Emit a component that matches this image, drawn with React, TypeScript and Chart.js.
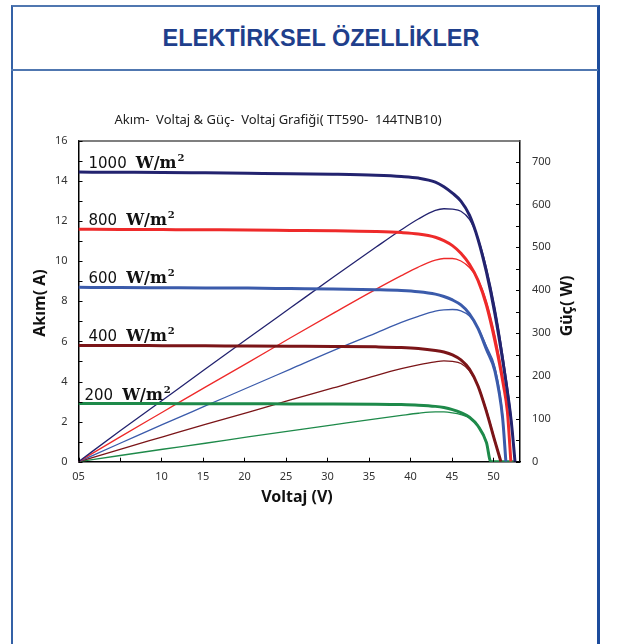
import React, { useEffect, useRef } from "react";
import { Chart, registerables } from "chart.js";

Chart.register(...registerables);

// ---------- data ----------
const irradianceLabels = ["1000", "800", "600", "400", "200"];

const voltage1000 = [0, 5.02, 10.15, 15.28, 20.42, 25.55, 30.68, 35.82, 38.9, 40.95, 43.0, 44.03, 45.06, 46.08, 47.11, 48.14, 49.16, 50.19, 51.21, 52.15, 52.6];
const current1000 = [14.45, 14.44, 14.43, 14.41, 14.39, 14.37, 14.34, 14.29, 14.23, 14.15, 13.95, 13.72, 13.4, 13.0, 12.3, 11.1, 9.45, 7.35, 4.8, 2.0, 0];
const power1000 = [0, 72, 144, 216, 288, 359, 430, 500, 541, 566, 586, 590, 589, 584, 565, 521, 452, 359, 238, 101, 0];

const voltage800 = [0, 5.02, 10.15, 15.28, 20.42, 25.55, 30.68, 35.82, 38.9, 40.95, 43.0, 44.03, 45.06, 46.08, 47.11, 48.14, 49.16, 50.19, 51.21, 51.68, 52.1];
const current800 = [11.6, 11.59, 11.58, 11.57, 11.56, 11.54, 11.52, 11.48, 11.43, 11.36, 11.2, 11.03, 10.78, 10.4, 9.85, 9.05, 7.8, 6.0, 3.8, 2.5, 0];
const power800 = [0, 58, 116, 174, 231, 289, 346, 402, 434, 454, 470, 474, 474, 468, 453, 425, 374, 294, 190, 126, 0];

const voltage600 = [0, 5.02, 10.15, 15.28, 20.42, 25.55, 30.68, 35.82, 38.9, 40.95, 43.0, 44.03, 45.06, 46.08, 47.11, 48.14, 49.16, 50.19, 51.1, 51.5];
const current600 = [8.7, 8.69, 8.68, 8.67, 8.66, 8.64, 8.62, 8.58, 8.54, 8.48, 8.36, 8.24, 8.07, 7.82, 7.38, 6.65, 5.6, 4.5, 2.2, 0];
const power600 = [0, 43, 87, 130, 173, 216, 259, 300, 325, 339, 351, 354, 355, 352, 340, 313, 269, 220, 110, 0];

const voltage400 = [0, 5.02, 10.15, 15.28, 20.42, 25.55, 30.68, 35.82, 38.9, 40.95, 43.0, 44.03, 45.06, 46.08, 47.11, 48.14, 49.16, 50.19, 50.9];
const current400 = [5.8, 5.8, 5.79, 5.78, 5.77, 5.76, 5.75, 5.73, 5.7, 5.65, 5.55, 5.47, 5.33, 5.08, 4.62, 3.78, 2.5, 1.0, 0];
const power400 = [0, 29, 58, 87, 115, 144, 172, 201, 217, 226, 233, 235, 234, 229, 212, 178, 120, 49, 0];

const voltage200 = [0, 5.02, 10.15, 15.28, 20.42, 25.55, 30.68, 35.82, 38.9, 40.95, 43.0, 44.03, 45.06, 46.08, 47.11, 48.14, 49.16, 49.68, 52.45];
const current200 = [2.9, 2.9, 2.9, 2.89, 2.89, 2.88, 2.88, 2.87, 2.85, 2.82, 2.76, 2.7, 2.6, 2.45, 2.22, 1.78, 0.95, 0, 0];
const power200 = [0, 14.5, 29, 43, 58, 72, 86, 100, 108, 113, 116, 116, 114, 110, 102, 84, 46, 0, 0];

const voltageSeries = [voltage1000, voltage800, voltage600, voltage400, voltage200];
const currentSeries = [current1000, current800, current600, current400, current200];
const powerSeries = [power1000, power800, power600, power400, power200];

const xTickValues = [0, 5, 10, 15, 20, 25, 30, 35, 40, 45, 50];
const xTickLabels = ["05", "", "10", "15", "20", "25", "30", "35", "40", "45", "50"];
const currentTickValues = [0, 1, 2, 3, 4, 5, 6, 7, 8, 9, 10, 11, 12, 13, 14, 15, 16];
const currentTickLabels = ["0", "", "2", "", "4", "", "6", "", "8", "", "10", "", "12", "", "14", "", "16"];
const powerTickValues = [0, 50, 100, 150, 200, 250, 300, 350, 400, 450, 500, 550, 600, 650, 700];
const powerTickLabels = ["0", "", "100", "", "200", "", "300", "", "400", "", "500", "", "600", "", "700"];

const chartTitle = "Akım-  Voltaj & Güç-  Voltaj Grafiği( TT590-  144TNB10)";
const xTitle = "Voltaj (V)";
const yTitle = "Akım( A)";
const y1Title = "Güç( W)";
const headerTitle = "ELEKTİRKSEL ÖZELLİKLER";

// ---------- styles ----------
const seriesColors = ["#23236f", "#ee2a2a", "#3b5bab", "#7b1518", "#1e8a4a"];

const decorPlugin = {
  id: "decor",
  afterDraw(chart: any) {
    const { ctx, chartArea: a, scales } = chart;
    ctx.save();
    // top frame
    ctx.strokeStyle = "#555";
    ctx.lineWidth = 1.5;
    ctx.beginPath();
    ctx.moveTo(a.left, a.top);
    ctx.lineTo(a.right, a.top);
    ctx.stroke();
    // inside ticks
    ctx.strokeStyle = "#000";
    ctx.lineWidth = 1;
    ctx.beginPath();
    scales.x.ticks.forEach((t: any) => {
      const px = Math.round(scales.x.getPixelForValue(t.value)) + 0.5;
      ctx.moveTo(px, a.bottom);
      ctx.lineTo(px, a.bottom - 4);
    });
    scales.y.ticks.forEach((t: any) => {
      const py = Math.round(scales.y.getPixelForValue(t.value)) + 0.5;
      ctx.moveTo(a.left, py);
      ctx.lineTo(a.left + 4, py);
    });
    scales.y1.ticks.forEach((t: any) => {
      const py = Math.round(scales.y1.getPixelForValue(t.value)) + 0.5;
      ctx.moveTo(a.right, py);
      ctx.lineTo(a.right - 4, py);
    });
    ctx.stroke();

    // chart title
    ctx.fillStyle = "#222";
    ctx.font = '13px "Noto Sans"';
    ctx.textAlign = "center";
    ctx.textBaseline = "middle";
    ctx.fillText(chartTitle, 278, 120);

    // axis titles
    ctx.fillStyle = "#111";
    ctx.font = 'bold 16px "Noto Sans"';
    ctx.fillText(xTitle, 297, 497);
    ctx.save();
    ctx.translate(40, 303);
    ctx.rotate(-Math.PI / 2);
    ctx.fillText(yTitle, 0, 0);
    ctx.restore();
    ctx.save();
    ctx.translate(567, 306);
    ctx.rotate(-Math.PI / 2);
    ctx.fillText(y1Title, 0, 0);
    ctx.restore();

    // irradiance labels
    ctx.textAlign = "left";
    ctx.textBaseline = "alphabetic";
    ctx.fillStyle = "#111";
    irradianceLabels.forEach((lab, i) => {
      const x0 = scales.x.getPixelForValue(0) + (i === 4 ? 6 : 10);
      const y0 = scales.y.getPixelForValue(currentSeries[i][0]) - 4;
      ctx.font = '15px "DejaVu Sans"';
      ctx.fillText(lab, x0, y0);
      let x = x0 + ctx.measureText(lab).width + 9;
      ctx.font = 'bold 16px "DejaVu Serif"';
      ctx.fillText("W/m", x, y0);
      x += ctx.measureText("W/m").width + 1;
      ctx.font = 'bold 10px "DejaVu Serif"';
      ctx.fillText("2", x, y0 - 7);
    });
    ctx.restore();
  },
};

export default function App() {
  const canvasRef = useRef<HTMLCanvasElement | null>(null);

  useEffect(() => {
    if (!canvasRef.current) return;
    const datasets: any[] = [];
    voltageSeries.forEach((vs, i) => {
      datasets.push({
        label: irradianceLabels[i] + " I",
        data: vs.map((v, k) => ({ x: v, y: currentSeries[i][k] })),
        yAxisID: "y",
        borderColor: seriesColors[i],
        borderWidth: 3,
        pointRadius: 0,
        cubicInterpolationMode: "monotone",
        fill: false,
      });
    });
    voltageSeries.forEach((vs, i) => {
      datasets.push({
        label: irradianceLabels[i] + " P",
        data: powerSeries[i].map((p, k) => ({ x: vs[k], y: p })),
        yAxisID: "y1",
        borderColor: seriesColors[i],
        borderWidth: 1.3,
        pointRadius: 0,
        cubicInterpolationMode: "monotone",
        fill: false,
      });
    });

    const tickFont = { family: '"Noto Sans"', size: 11 };
    const chart = new Chart(canvasRef.current, {
      type: "line",
      data: { datasets },
      plugins: [decorPlugin],
      options: {
        animation: false,
        responsive: false,
        layout: { padding: { top: 141, left: 0, right: 0, bottom: 0 } },
        plugins: { legend: { display: false }, title: { display: false }, tooltip: { enabled: false } },
        scales: {
          x: {
            type: "linear",
            min: 0,
            max: 53.2,
            grid: { display: false, drawTicks: false },
            border: { display: true, color: "#000", width: 1.5 },
            afterBuildTicks: (s: any) => {
              s.ticks = xTickValues.map((v) => ({ value: v }));
            },
            afterFit: (s: any) => {
              s.height = 644 - 461.7;
            },
            ticks: {
              autoSkip: false,
              maxRotation: 0,
              padding: 9,
              color: "#333",
              font: tickFont,
              callback: (v: any) => xTickLabels[xTickValues.indexOf(Number(v))] ?? "",
            },
          },
          y: {
            type: "linear",
            position: "left",
            min: 0,
            max: 16,
            grid: { display: false, drawTicks: false },
            border: { display: true, color: "#000", width: 1.5 },
            afterBuildTicks: (s: any) => {
              s.ticks = currentTickValues.map((v) => ({ value: v }));
            },
            afterFit: (s: any) => {
              s.width = 78.5;
            },
            ticks: {
              autoSkip: false,
              padding: 11,
              color: "#333",
              font: tickFont,
              callback: (v: any) => currentTickLabels[currentTickValues.indexOf(Number(v))] ?? "",
            },
          },
          y1: {
            type: "linear",
            position: "right",
            min: 0,
            max: 748,
            grid: { display: false, drawTicks: false },
            border: { display: true, color: "#000", width: 1.5 },
            afterBuildTicks: (s: any) => {
              s.ticks = powerTickValues.map((v) => ({ value: v }));
            },
            afterFit: (s: any) => {
              s.width = 100;
            },
            ticks: {
              autoSkip: false,
              padding: 12,
              color: "#333",
              font: tickFont,
              callback: (v: any) => powerTickLabels[powerTickValues.indexOf(Number(v))] ?? "",
            },
          },
        },
      } as any,
    });
    return () => chart.destroy();
  }, []);

  return (
    <div style={{ position: "absolute", left: 0, top: 0, width: 620, height: 644, overflow: "hidden", background: "#fff" }}>
      <div
        style={{
          position: "absolute",
          left: 11,
          top: 5,
          width: 589,
          height: 639,
          boxSizing: "border-box",
          borderLeft: "2px solid #3461a6",
          borderTop: "2px solid #5077b0",
          borderRight: "3px solid #1c4c9c",
        }}
      />
      <div style={{ position: "absolute", left: 11, top: 69, width: 587, height: 2, background: "#5077b0" }} />
      <div
        style={{
          position: "absolute",
          left: 11,
          top: 7,
          width: 620,
          height: 62,
          display: "flex",
          alignItems: "center",
          justifyContent: "center",
          fontFamily: '"Liberation Sans", Arial, sans-serif',
          fontWeight: 700,
          fontSize: 23.5,
          color: "#1f3f8c",
        }}
      >
        {headerTitle}
      </div>
      <canvas ref={canvasRef} width={620} height={644} style={{ position: "absolute", left: 0, top: 0 }} />
    </div>
  );
}
